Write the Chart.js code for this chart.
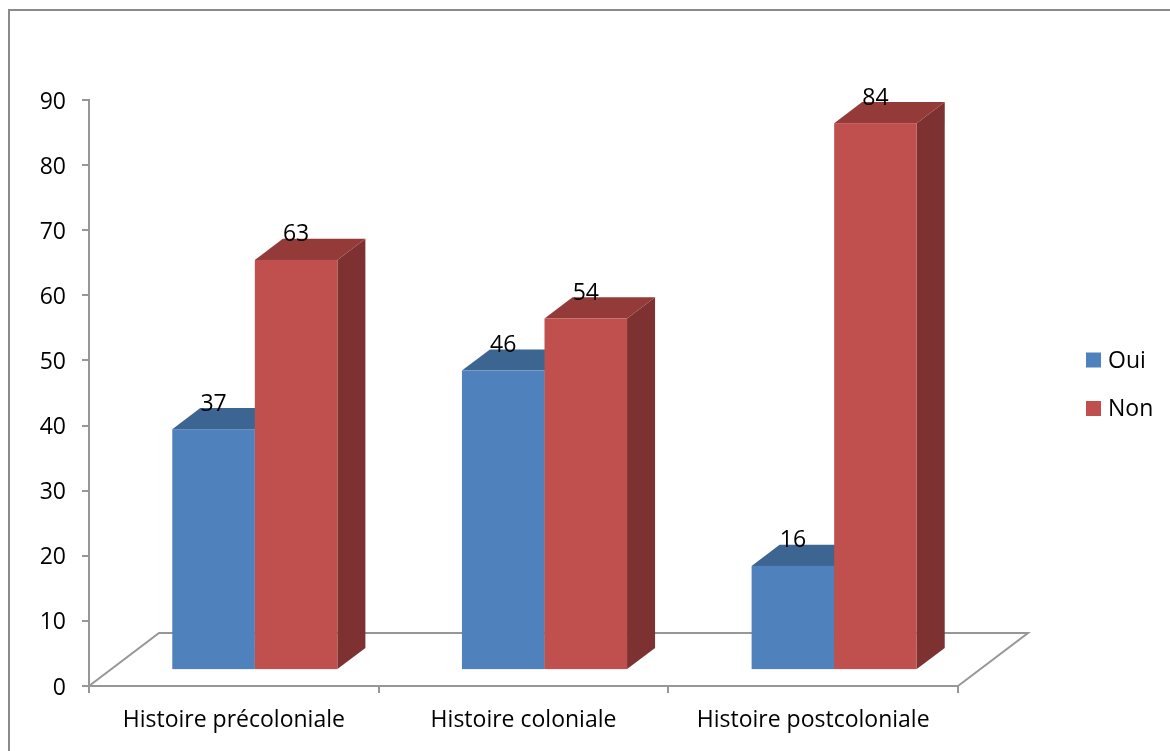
<!DOCTYPE html>
<html>
<head>
<meta charset="utf-8">
<script src="https://cdn.jsdelivr.net/npm/chart.js@4.4.0/dist/chart.umd.min.js"></script>
<style>
  html, body { margin: 0; padding: 0; background: #ffffff; }
  canvas { display: block; }
</style>
</head>
<body>
<canvas id="chart" width="1170" height="751"></canvas>
<script>
// Survey answers per history period
const categories = ['Histoire précoloniale', 'Histoire coloniale', 'Histoire postcoloniale'];
const seriesNames = ['Oui', 'Non'];
const ouiValues = [37, 46, 16];
const nonValues = [63, 54, 84];
const yTickValues = [0, 10, 20, 30, 40, 50, 60, 70, 80, 90];

// Face colours of the boxes: front, top, side
const ouiColors = { front: '#4F81BD', top: '#3D6592', side: '#365A84' };
const nonColors = { front: '#C0504D', top: '#943B39', side: '#7D3130' };

const FONT_FAMILY = '"Open Sans", "DejaVu Sans", sans-serif';
const FONT_SIZE = 23;
const AXIS_GREY = '#979797';

// Perspective of the floor and where the boxes sit in depth
const FLOOR_DX = 70, FLOOR_DY = -53;
const BOX_FRONT = 0.3, BOX_BACK = 0.7;

const faceColors = [ouiColors, nonColors];

const framePlugin = {
  id: 'frame',
  beforeDraw(chart) {
    const ctx = chart.ctx;
    ctx.save();
    ctx.fillStyle = '#ffffff';
    ctx.fillRect(0, 0, chart.width, chart.height);
    ctx.strokeStyle = '#8a8a8a';
    ctx.lineWidth = 2;
    ctx.strokeRect(9, 10, chart.width + 20, chart.height + 20);
    ctx.restore();
  }
};

const box3dPlugin = {
  id: 'box3d',
  beforeDatasetsDraw(chart) {
    const ctx = chart.ctx;
    const a = chart.chartArea;
    // floor outline (front edge is the category axis line)
    ctx.save();
    ctx.strokeStyle = AXIS_GREY;
    ctx.lineWidth = 2;
    ctx.lineJoin = 'miter';
    ctx.beginPath();
    ctx.moveTo(a.left, a.bottom);
    ctx.lineTo(a.left + FLOOR_DX, a.bottom + FLOOR_DY);
    ctx.lineTo(a.right + FLOOR_DX, a.bottom + FLOOR_DY);
    ctx.lineTo(a.right, a.bottom);
    ctx.stroke();
    ctx.restore();

    const fx = FLOOR_DX * BOX_FRONT, fy = FLOOR_DY * BOX_FRONT;
    const dx = FLOOR_DX * (BOX_BACK - BOX_FRONT), dy = FLOOR_DY * (BOX_BACK - BOX_FRONT);

    chart.data.datasets.forEach((ds, di) => {
      const meta = chart.getDatasetMeta(di);
      if (meta.hidden) return;
      const col = faceColors[di];
      meta.data.forEach((el) => {
        const x0 = el.x - el.width / 2 + fx;
        const x1 = el.x + el.width / 2 + fx;
        const yt = el.y + fy;
        const yb = el.base + fy;
        ctx.save();
        // side face
        ctx.fillStyle = col.side;
        ctx.beginPath();
        ctx.moveTo(x1, yb);
        ctx.lineTo(x1 + dx, yb + dy);
        ctx.lineTo(x1 + dx, yt + dy);
        ctx.lineTo(x1, yt);
        ctx.closePath();
        ctx.fill();
        // top face
        ctx.fillStyle = col.top;
        ctx.beginPath();
        ctx.moveTo(x0, yt);
        ctx.lineTo(x0 + dx, yt + dy);
        ctx.lineTo(x1 + dx, yt + dy);
        ctx.lineTo(x1, yt);
        ctx.closePath();
        ctx.fill();
        // front face
        ctx.fillStyle = col.front;
        ctx.fillRect(x0, yt, x1 - x0, yb - yt);
        ctx.restore();
      });
    });
  },
  beforeDatasetDraw() {
    return false;
  },
  afterDatasetsDraw(chart) {
    const ctx = chart.ctx;
    const fx = FLOOR_DX * BOX_FRONT, fy = FLOOR_DY * BOX_FRONT;
    ctx.save();
    ctx.fillStyle = '#000000';
    ctx.font = FONT_SIZE + 'px ' + FONT_FAMILY;
    ctx.textAlign = 'center';
    ctx.textBaseline = 'middle';
    chart.data.datasets.forEach((ds, di) => {
      const meta = chart.getDatasetMeta(di);
      meta.data.forEach((el, i) => {
        ctx.fillText(String(ds.data[i]), el.x + fx, el.y + fy - 25);
      });
    });
    ctx.restore();
  },
  afterDraw(chart) {
    // legend on the right
    const ctx = chart.ctx;
    const lx = 1086, rows = [360, 408.5], box = 15;
    ctx.save();
    ctx.font = FONT_SIZE + 'px ' + FONT_FAMILY;
    ctx.textAlign = 'left';
    ctx.textBaseline = 'middle';
    chart.data.datasets.forEach((ds, di) => {
      const cy = rows[di];
      ctx.fillStyle = faceColors[di].front;
      ctx.fillRect(lx, cy - box / 2, box, box);
      ctx.fillStyle = '#000000';
      ctx.fillText(ds.label, lx + 22, cy + 1);
    });
    ctx.restore();
  }
};

new Chart(document.getElementById('chart'), {
  type: 'bar',
  data: {
    labels: categories,
    datasets: [
      { label: seriesNames[0], data: ouiValues, backgroundColor: ouiColors.front },
      { label: seriesNames[1], data: nonValues, backgroundColor: nonColors.front }
    ]
  },
  options: {
    responsive: false,
    animation: false,
    devicePixelRatio: 1,
    categoryPercentage: 0.57,
    barPercentage: 1,
    layout: { padding: { top: 100, right: 212, bottom: 0, left: 0 } },
    plugins: {
      legend: { display: false },
      tooltip: { enabled: false }
    },
    scales: {
      x: {
        grid: {
          display: true,
          offset: true,
          drawOnChartArea: false,
          drawTicks: true,
          tickLength: 7,
          color: AXIS_GREY,
          lineWidth: 2
        },
        border: { display: true, color: AXIS_GREY, width: 2 },
        ticks: {
          color: '#000000',
          font: { family: FONT_FAMILY, size: FONT_SIZE },
          padding: 14,
          maxRotation: 0,
          autoSkip: false
        },
        afterFit(scale) { scale.height = 65; }
      },
      y: {
        min: 0,
        max: 90,
        afterBuildTicks(scale) { scale.ticks = yTickValues.map(v => ({ value: v })); },
        grid: {
          display: true,
          drawOnChartArea: false,
          drawTicks: true,
          tickLength: 7,
          color: AXIS_GREY,
          lineWidth: 2
        },
        border: { display: true, color: AXIS_GREY, width: 2 },
        ticks: {
          color: '#000000',
          font: { family: FONT_FAMILY, size: FONT_SIZE },
          padding: 16,
          labelOffset: 2
        },
        afterFit(scale) { scale.width = 89; }
      }
    }
  },
  plugins: [framePlugin, box3dPlugin]
});
</script>
</body>
</html>
